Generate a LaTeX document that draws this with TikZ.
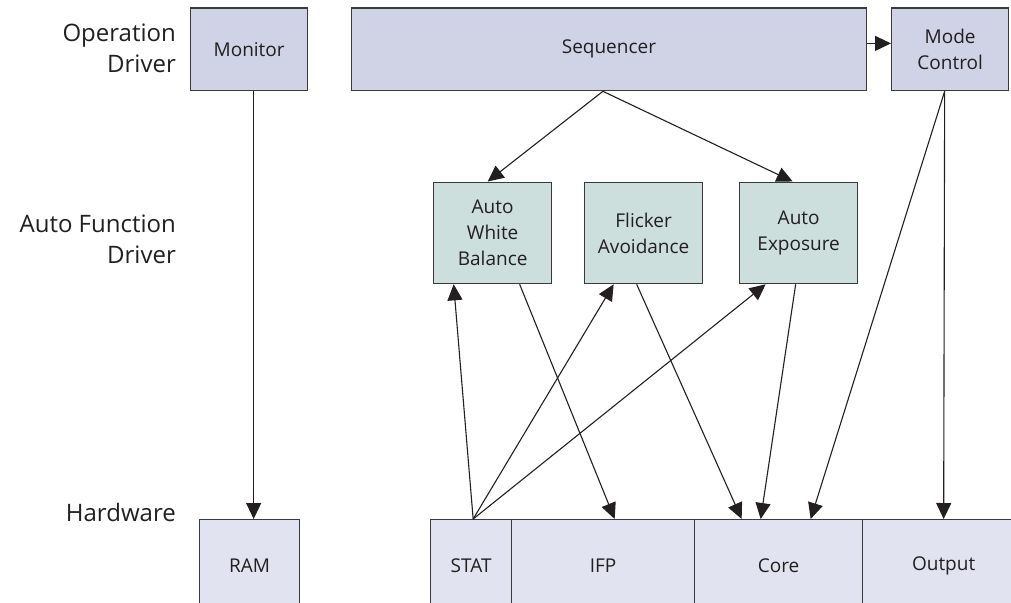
\documentclass[tikz,border=0pt]{standalone}
\usepackage{fontspec}
\setmainfont{Open Sans}
\usetikzlibrary{arrows.meta,calc}
\definecolor{topfill}{HTML}{CFD3E5}
\definecolor{midfill}{HTML}{CCDFDC}
\definecolor{botfill}{HTML}{E1E3F1}
\definecolor{edge}{HTML}{3A3A3A}
\definecolor{ink}{HTML}{231F20}
\tikzset{
  box/.style={draw=edge, line width=1.3pt, inner sep=0pt, anchor=north west, align=center,
    text=ink, font=\fontsize{19}{26}\selectfont},
  topbox/.style={box, fill=topfill},
  midbox/.style={box, fill=midfill},
  botbox/.style={box, fill=botfill},
  lbl/.style={anchor=east, align=right, text=ink, inner sep=0pt, font=\fontsize{24}{31}\selectfont},
  arr/.style={draw=ink, line width=1.1pt, -{Triangle[length=16pt,width=15pt]}},
}
\begin{document}
\begin{tikzpicture}[x=1pt,y=-1pt]
\useasboundingbox (0,0) rectangle (1011,602);
% layer labels
\node[lbl] (l1) at (176,48) {Operation\\Driver};
\node[lbl] (l2) at (176,239) {Auto Function\\Driver};
\node[lbl] (l3) at (176,512) {Hardware};
% top row
\node[topbox, minimum width=117pt, minimum height=82.5pt] (mon) at (190,7.5) {Monitor};
\node[topbox, minimum width=515.5pt, minimum height=82.5pt] (seq) at (350.5,7.5) {Sequencer};
\node[topbox, minimum width=117pt, minimum height=82.5pt] (mode) at (891,7.5) {Mode\\Control};
% middle row
\node[midbox, minimum width=118pt, minimum height=101.5pt] (awb) at (433,181.5) {Auto\\White\\Balance};
\node[midbox, minimum width=118pt, minimum height=101.5pt] (fa) at (584,181.5) {Flicker\\Avoidance};
\node[midbox, minimum width=118pt, minimum height=101.5pt] (ae) at (739,181.5) {Auto\\Exposure};
% bottom row
\node[botbox, minimum width=100pt, minimum height=92pt] (ram) at (199,519) {RAM};
\node[botbox, minimum width=81pt, minimum height=92pt] (stat) at (430,519) {STAT};
\node[botbox, minimum width=183pt, minimum height=92pt] (ifp) at (511,519) {IFP};
\node[botbox, minimum width=168pt, minimum height=92pt] (core) at (694,519) {Core};
\node[botbox, minimum width=162pt, minimum height=92pt] (out) at (862,519) {Output};
% connectors
\draw[arr] ([xshift=4.5pt]mon.south) -- ([xshift=4pt]ram.north);
\draw[arr] ([yshift=6pt]seq.east) -- ([yshift=6pt]mode.west);
\draw[arr] ([xshift=-6pt]seq.south) -- ([xshift=-5pt]awb.north);
\draw[arr] ([xshift=-6pt]seq.south) -- ([xshift=-6pt]ae.north);
\draw[arr] ([xshift=2pt]stat.north) -- ([xshift=-39pt]awb.south);
\draw[arr] ([xshift=2pt]stat.north) -- ([xshift=-30pt]fa.south);
\draw[arr] ([xshift=2pt]stat.north) -- ([xshift=-33pt]ae.south);
\draw[arr] ([xshift=27pt]awb.south) -- ([xshift=11.5pt]ifp.north);
\draw[arr] ([xshift=-7pt]fa.south) -- ([xshift=-37pt]core.north);
\draw[arr] ([xshift=-3pt]ae.south) -- ([xshift=-18pt]core.north);
\draw[arr] ([xshift=-5.5pt]mode.south) -- ([xshift=32pt]core.north);
\draw[arr] ([xshift=-5.5pt]mode.south) -- (out.north);
\end{tikzpicture}
\end{document}
